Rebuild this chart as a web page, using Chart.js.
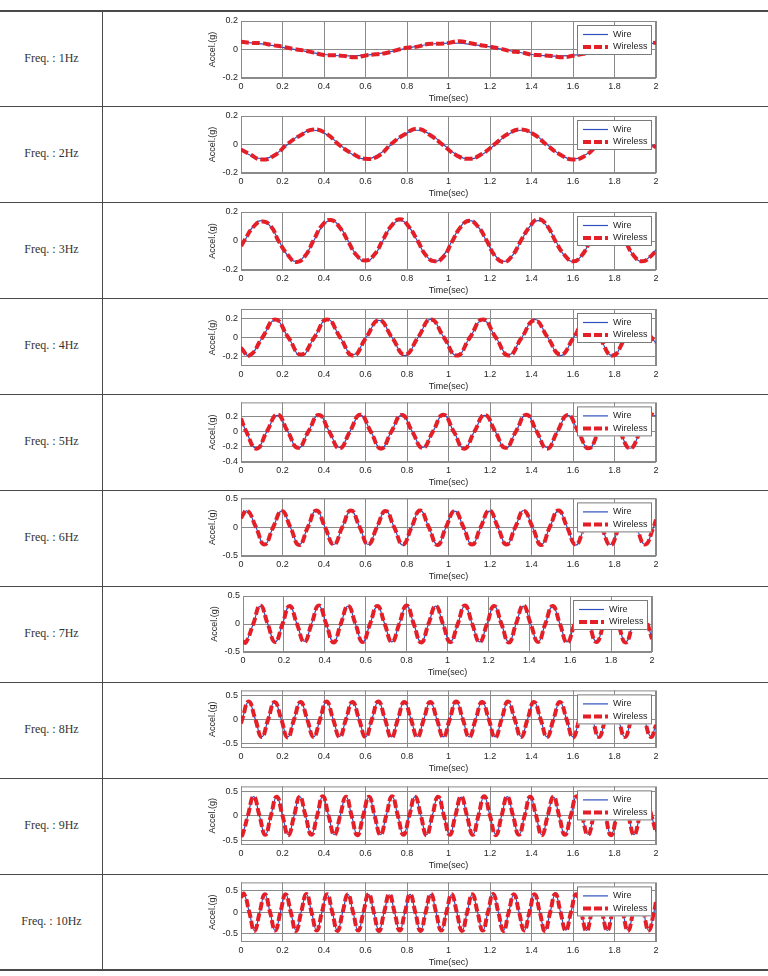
<!DOCTYPE html>
<html>
<head>
<meta charset="utf-8">
<script src="https://cdn.jsdelivr.net/npm/chart.js@4.4.0/dist/chart.umd.min.js"></script>
<style>
  html, body { margin: 0; padding: 0; background: #fff; }
  #page { position: relative; width: 768px; height: 976px; overflow: hidden; }
  .rule { position: absolute; background: #4a4a4a; }
  .freq { position: absolute; left: 0; width: 103px; text-align: center; font-family: "Liberation Serif", "DejaVu Serif", serif; font-size: 12px; color: #333; }
  canvas { position: absolute; }
</style>
</head>
<body>
<div id="page"></div>
<script>
// ---- data ----
const freqLabels = ['Freq. : 1Hz', 'Freq. : 2Hz', 'Freq. : 3Hz', 'Freq. : 4Hz', 'Freq. : 5Hz',
                    'Freq. : 6Hz', 'Freq. : 7Hz', 'Freq. : 8Hz', 'Freq. : 9Hz', 'Freq. : 10Hz'];
const seriesNames = ['Wire', 'Wireless'];
const xTicks = [0, 0.2, 0.4, 0.6, 0.8, 1, 1.2, 1.4, 1.6, 1.8, 2];
const yTicksSmall = [-0.2, 0, 0.2];
const yTicks5Hz = [-0.4, -0.2, 0, 0.2];
const yTicksLarge = [-0.5, 0, 0.5];

// 1 Hz
const t1 = [0,0.05,0.1,0.15,0.2,0.25,0.3,0.35,0.4,0.45,0.5,0.55,0.6,0.65,0.7,0.75,0.8,0.85,0.9,0.95,
  1,1.05,1.1,1.15,1.2,1.25,1.3,1.35,1.4,1.45,1.5,1.55,1.6,1.65,1.7,1.75,1.8,1.85,1.9,1.95,2];
const wire1 = [0.05,0.047,0.04,0.029,0.015,0.002,-0.01,-0.024,-0.035,-0.042,-0.045,-0.044,-0.04,-0.031,-0.02,
  -0.006,0.01,0.023,0.035,0.042,0.045,0.044,0.038,0.029,0.018,0.004,-0.01,-0.023,-0.035,-0.042,-0.046,
  -0.045,-0.04,-0.031,-0.02,-0.006,0.01,0.023,0.033,0.04,0.045];
const wireless1 = [0.055,0.046,0.044,0.031,0.02,0.004,-0.006,-0.022,-0.038,-0.04,-0.046,-0.055,-0.042,-0.034,-0.024,
  -0.004,0.012,0.02,0.038,0.04,0.046,0.058,0.046,0.032,0.02,0.006,-0.012,-0.02,-0.036,-0.04,-0.046,
  -0.055,-0.044,-0.03,-0.02,-0.004,0.012,0.026,0.03,0.042,0.048];

// 2 Hz
const t2 = [0,0.0375,0.1,0.1625,0.225,0.2875,0.35,0.4125,0.475,0.5375,0.6,0.6625,0.725,0.7875,0.85,0.9125,
  0.975,1.0375,1.1,1.1625,1.225,1.2875,1.35,1.4125,1.475,1.5375,1.6,1.6625,1.725,1.7875,1.85,1.9125,1.975,2];
const wire2 = [-0.03,-0.07,-0.1,-0.07,0,0.07,0.1,0.07,0,-0.07,-0.1,-0.07,0,0.07,0.1,0.07,
  0,-0.07,-0.1,-0.07,0,0.07,0.1,0.07,0,-0.07,-0.1,-0.07,0,0.07,0.1,0.07,0,-0.025];
const wireless2 = [-0.035,-0.065,-0.105,-0.075,0.005,0.065,0.105,0.075,-0.005,-0.065,-0.1,-0.08,0.005,0.07,0.11,0.065,
  -0.005,-0.075,-0.1,-0.065,0.005,0.075,0.105,0.07,-0.005,-0.07,-0.105,-0.075,0.005,0.065,0.1,0.07,0.005,-0.02];

// 3 Hz
const t3 = [0,0.017,0.058,0.1,0.142,0.183,0.225,0.267,0.308,0.35,0.392,0.433,0.475,0.517,0.558,0.6,0.642,
  0.683,0.725,0.767,0.808,0.85,0.892,0.933,0.975,1.017,1.058,1.1,1.142,1.183,1.225,1.267,1.308,1.35,1.392,
  1.433,1.475,1.517,1.558,1.6,1.642,1.683,1.725,1.767,1.808,1.85,1.892,1.933,1.975,2];
const wire3 = [-0.035,
  0,0.1,0.14,0.1,0,-0.1,-0.14,-0.1,  0,0.1,0.14,0.1,0,-0.1,-0.14,-0.1,
  0,0.1,0.14,0.1,0,-0.1,-0.14,-0.1,  0,0.1,0.14,0.1,0,-0.1,-0.14,-0.1,
  0,0.1,0.14,0.1,0,-0.1,-0.14,-0.1,  0,0.1,0.14,0.1,0,-0.1,-0.14,-0.1,
  -0.06];
const wireless3 = [-0.035,
  0.005,0.095,0.135,0.105,-0.005,-0.095,-0.145,-0.105,  0.005,0.11,0.145,0.095,-0.005,-0.1,-0.135,-0.095,
  0.005,0.105,0.15,0.1,0.005,-0.1,-0.14,-0.11,  -0.005,0.095,0.14,0.1,0.005,-0.105,-0.145,-0.1,
  0.005,0.1,0.15,0.105,-0.005,-0.095,-0.14,-0.1,  0,0.1,0.14,0.1,0.005,-0.1,-0.14,-0.105,
  -0.065];

// 4 Hz
const t4 = [0,0.04,0.103,0.165,0.228,0.29,0.353,0.415,0.478,0.54,0.603,0.665,0.728,0.79,0.853,0.915,0.978,
  1.04,1.103,1.165,1.228,1.29,1.353,1.415,1.478,1.54,1.603,1.665,1.728,1.79,1.853,1.915,1.978,2];
const wire4 = [-0.1,
  -0.19,0,0.18,0, -0.19,0,0.19,0, -0.18,0,0.18,0, -0.19,0,0.19,0,
  -0.19,0,0.18,0, -0.18,0,0.19,0, -0.19,0,0.19,0, -0.19,0,0.18,0,
  -0.06];
const wireless4 = [-0.11,
  -0.19,0,0.19,0, -0.18,0,0.19,0, -0.19,0,0.18,0, -0.18,0,0.19,0,
  -0.19,0,0.19,0, -0.19,0,0.18,0, -0.18,0,0.19,0, -0.19,0,0.19,0,
  -0.05];

// 5 Hz
const t5 = [0,0.025,0.075,0.125,0.175,0.225,0.275,0.325,0.375,0.425,0.475,0.525,0.575,0.625,0.675,0.725,0.775,
  0.825,0.875,0.925,0.975,1.025,1.075,1.125,1.175,1.225,1.275,1.325,1.375,1.425,1.475,1.525,1.575,1.625,
  1.675,1.725,1.775,1.825,1.875,1.925,1.975,2];
const wire5 = [0.16,
  0,-0.22,0,0.21, 0,-0.22,0,0.215, 0,-0.21,0,0.21, 0,-0.22,0,0.21, 0,-0.21,0,0.215,
  0,-0.22,0,0.21, 0,-0.22,0,0.215, 0,-0.21,0,0.21, 0,-0.22,0,0.21, 0,-0.22,0,0.21,
  0.2];
const wireless5 = [0.17,
  0,-0.225,0,0.22, 0,-0.215,0,0.215, 0,-0.22,0,0.22, 0,-0.225,0,0.215, 0,-0.215,0,0.22,
  0,-0.225,0,0.215, 0,-0.215,0,0.22, 0,-0.225,0,0.215, 0,-0.22,0,0.22, 0,-0.22,0,0.215,
  0.2];

// 6 Hz
const t6 = [0,0.03,0.072,0.113,0.155,0.197,0.238,0.28,0.322,0.363,0.405,0.447,0.488,0.53,0.572,0.613,0.655,
  0.697,0.738,0.78,0.822,0.863,0.905,0.947,0.988,1.03,1.072,1.113,1.155,1.197,1.238,1.28,1.322,1.363,1.405,
  1.447,1.488,1.53,1.572,1.613,1.655,1.697,1.738,1.78,1.822,1.863,1.905,1.947,1.988,2];
const wire6 = [0.15,
  0.28,0,-0.3,0, 0.28,0,-0.3,0, 0.29,0,-0.3,0, 0.28,0,-0.3,0,
  0.28,0,-0.31,0, 0.29,0,-0.3,0, 0.28,0,-0.3,0, 0.28,0,-0.3,0,
  0.29,0,-0.3,0, 0.28,0,-0.31,0, 0.28,0,-0.3,0, 0.28,0,-0.3,0,
  0.12];
const wireless6 = [0.16,
  0.29,0,-0.3,0, 0.28,0,-0.31,0, 0.29,0,-0.3,0, 0.29,0,-0.3,0,
  0.28,0,-0.3,0, 0.29,0,-0.31,0, 0.28,0,-0.3,0, 0.29,0,-0.3,0,
  0.28,0,-0.31,0, 0.29,0,-0.3,0, 0.28,0,-0.31,0, 0.29,0,-0.3,0,
  0.13];

// 7 Hz
const t7 = [0,0.014,0.05,0.085,0.121,0.157,0.193,0.228,0.264,0.3,0.335,0.371,0.407,0.443,0.478,0.514,0.55,
  0.585,0.621,0.657,0.693,0.728,0.764,0.8,0.835,0.871,0.907,0.943,0.978,1.014,1.05,1.085,1.121,1.157,1.193,
  1.228,1.264,1.3,1.335,1.371,1.407,1.443,1.478,1.514,1.55,1.585,1.621,1.657,1.693,1.728,1.764,1.8,1.835,
  1.871,1.907,1.943,1.978,2];
const wire7 = [-0.3,
  -0.32,0,0.32,0, -0.32,0,0.32,0, -0.31,0,0.32,0, -0.32,0,0.32,0, -0.32,0,0.31,0,
  -0.32,0,0.32,0, -0.32,0,0.32,0, -0.31,0,0.32,0, -0.32,0,0.32,0, -0.32,0,0.32,0,
  -0.32,0,0.31,0, -0.32,0,0.32,0, -0.31,0,0.32,0, -0.32,0,0.32,0,
  -0.26];
const wireless7 = [-0.31,
  -0.33,0,0.33,0, -0.32,0,0.32,0, -0.32,0,0.33,0, -0.33,0,0.32,0, -0.32,0,0.32,0,
  -0.32,0,0.33,0, -0.33,0,0.32,0, -0.32,0,0.33,0, -0.32,0,0.32,0, -0.33,0,0.33,0,
  -0.32,0,0.32,0, -0.33,0,0.32,0, -0.32,0,0.33,0, -0.33,0,0.32,0,
  -0.27];

// 8 Hz
const t8 = [0,0.006,0.037,0.069,0.1,0.131,0.162,0.194,0.225,0.256,0.287,0.319,0.35,0.381,0.412,0.444,0.475,
  0.506,0.537,0.569,0.6,0.631,0.662,0.694,0.725,0.756,0.787,0.819,0.85,0.881,0.912,0.944,0.975,
  1.006,1.037,1.069,1.1,1.131,1.162,1.194,1.225,1.256,1.287,1.319,1.35,1.381,1.412,1.444,1.475,
  1.506,1.537,1.569,1.6,1.631,1.662,1.694,1.725,1.756,1.787,1.819,1.85,1.881,1.912,1.944,1.975,2];
const wire8 = [-0.08,
  0,0.36,0,-0.37, 0,0.36,0,-0.37, 0,0.35,0,-0.37, 0,0.36,0,-0.36,
  0,0.36,0,-0.37, 0,0.36,0,-0.37, 0,0.36,0,-0.36, 0,0.35,0,-0.37,
  0,0.36,0,-0.37, 0,0.36,0,-0.37, 0,0.36,0,-0.36, 0,0.36,0,-0.37,
  0,0.35,0,-0.37, 0,0.36,0,-0.37, 0,0.36,0,-0.37, 0,0.36,0,-0.36,
  -0.11];
const wireless8 = [-0.09,
  0,0.37,0,-0.37, 0,0.36,0,-0.38, 0,0.36,0,-0.37, 0,0.37,0,-0.37,
  0,0.36,0,-0.37, 0,0.37,0,-0.38, 0,0.36,0,-0.37, 0,0.36,0,-0.37,
  0,0.37,0,-0.37, 0,0.36,0,-0.38, 0,0.37,0,-0.37, 0,0.36,0,-0.37,
  0,0.36,0,-0.38, 0,0.37,0,-0.37, 0,0.36,0,-0.37, 0,0.37,0,-0.37,
  -0.12];

// 9 Hz
const t9 = [0,0.006,0.033,0.061,0.089,0.117,0.144,0.172,0.2,0.228,0.256,0.283,0.311,0.339,0.367,0.394,0.422,
  0.45,0.478,0.506,0.533,0.561,0.589,0.617,0.644,0.672,0.7,0.728,0.756,0.783,0.811,0.839,0.867,0.894,0.922,
  0.95,0.978,1.006,1.033,1.061,1.089,1.117,1.144,1.172,1.2,1.228,1.256,1.283,1.311,1.339,1.367,1.394,1.422,
  1.45,1.478,1.506,1.533,1.561,1.589,1.617,1.644,1.672,1.7,1.728,1.756,1.783,1.811,1.839,1.867,1.894,1.922,
  1.95,1.978,2];
const wire9 = [-0.37,
  -0.39,0,0.39,0, -0.39,0,0.38,0, -0.39,0,0.39,0, -0.38,0,0.39,0, -0.39,0,0.39,0, -0.39,0,0.38,0,
  -0.39,0,0.39,0, -0.38,0,0.39,0, -0.39,0,0.39,0, -0.39,0,0.38,0, -0.39,0,0.39,0, -0.38,0,0.39,0,
  -0.39,0,0.39,0, -0.39,0,0.38,0, -0.39,0,0.39,0, -0.38,0,0.39,0, -0.39,0,0.39,0, -0.39,0,0.38,0,
  -0.33];
const wireless9 = [-0.38,
  -0.4,0,0.39,0, -0.39,0,0.39,0, -0.4,0,0.39,0, -0.39,0,0.4,0, -0.39,0,0.39,0, -0.4,0,0.39,0,
  -0.39,0,0.4,0, -0.39,0,0.39,0, -0.4,0,0.39,0, -0.39,0,0.39,0, -0.39,0,0.4,0, -0.4,0,0.39,0,
  -0.39,0,0.39,0, -0.4,0,0.39,0, -0.39,0,0.4,0, -0.39,0,0.39,0, -0.4,0,0.39,0, -0.39,0,0.39,0,
  -0.34];

// 10 Hz
const t10 = [0,0.015,0.04,0.065,0.09,0.115,0.14,0.165,0.19,0.215,0.24,0.265,0.29,0.315,0.34,0.365,0.39,0.415,
  0.44,0.465,0.49,0.515,0.54,0.565,0.59,0.615,0.64,0.665,0.69,0.715,0.74,0.765,0.79,0.815,0.84,0.865,0.89,
  0.915,0.94,0.965,0.99,1.015,1.04,1.065,1.09,1.115,1.14,1.165,1.19,1.215,1.24,1.265,1.29,1.315,1.34,1.365,
  1.39,1.415,1.44,1.465,1.49,1.515,1.54,1.565,1.59,1.615,1.64,1.665,1.69,1.715,1.74,1.765,1.79,1.815,1.84,
  1.865,1.89,1.915,1.94,1.965,1.99,2];
const wire10 = [0.34,
  0.42,0,-0.43,0, 0.41,0,-0.43,0, 0.42,0,-0.42,0, 0.42,0,-0.43,0, 0.41,0,-0.43,0,
  0.42,0,-0.43,0, 0.42,0,-0.42,0, 0.41,0,-0.43,0, 0.42,0,-0.43,0, 0.42,0,-0.42,0,
  0.41,0,-0.43,0, 0.42,0,-0.43,0, 0.42,0,-0.42,0, 0.41,0,-0.43,0, 0.42,0,-0.43,0,
  0.42,0,-0.42,0, 0.41,0,-0.43,0, 0.42,0,-0.43,0, 0.42,0,-0.42,0, 0.41,0,-0.43,0,
  0.25];
const wireless10 = [0.35,
  0.43,0,-0.44,0, 0.42,0,-0.43,0, 0.42,0,-0.44,0, 0.43,0,-0.43,0, 0.42,0,-0.44,0,
  0.42,0,-0.43,0, 0.43,0,-0.44,0, 0.42,0,-0.43,0, 0.42,0,-0.44,0, 0.43,0,-0.43,0,
  0.42,0,-0.44,0, 0.42,0,-0.43,0, 0.43,0,-0.44,0, 0.42,0,-0.43,0, 0.42,0,-0.44,0,
  0.43,0,-0.43,0, 0.42,0,-0.44,0, 0.42,0,-0.43,0, 0.43,0,-0.44,0, 0.42,0,-0.43,0,
  0.26];

// ---- panels: which arrays go where, plus axis limits ----
const panels = [
  { t: t1,  wire: wire1,  wireless: wireless1,  yMin: -0.2, yMax: 0.2,  yTicks: yTicksSmall, top: 21,  bottom: 78 },
  { t: t2,  wire: wire2,  wireless: wireless2,  yMin: -0.2, yMax: 0.2,  yTicks: yTicksSmall, top: 116, bottom: 173 },
  { t: t3,  wire: wire3,  wireless: wireless3,  yMin: -0.2, yMax: 0.2,  yTicks: yTicksSmall, top: 212, bottom: 270 },
  { t: t4,  wire: wire4,  wireless: wireless4,  yMin: -0.3, yMax: 0.3,  yTicks: yTicksSmall, top: 309, bottom: 366 },
  { t: t5,  wire: wire5,  wireless: wireless5,  yMin: -0.4, yMax: 0.38, yTicks: yTicks5Hz,   top: 402, bottom: 462 },
  { t: t6,  wire: wire6,  wireless: wireless6,  yMin: -0.5, yMax: 0.5,  yTicks: yTicksLarge, top: 498, bottom: 556 },
  { t: t7,  wire: wire7,  wireless: wireless7,  yMin: -0.5, yMax: 0.5,  yTicks: yTicksLarge, top: 596, bottom: 652, left: 243, right: 652 },
  { t: t8,  wire: wire8,  wireless: wireless8,  yMin: -0.6, yMax: 0.6,  yTicks: yTicksLarge, top: 690, bottom: 748 },
  { t: t9,  wire: wire9,  wireless: wireless9,  yMin: -0.6, yMax: 0.6,  yTicks: yTicksLarge, top: 786, bottom: 845 },
  { t: t10, wire: wire10, wireless: wireless10, yMin: -0.7, yMax: 0.7,  yTicks: yTicksLarge, top: 882, bottom: 942 },
];

// ---- page layout ----
const rowTops = [11, 106, 202, 298, 394, 490, 586, 682, 778, 874];
const tableBottom = 970;
const WIRE_BLUE = '#2f4fbf';
const WIRELESS_RED = '#e41f28';
const GRID = '#8a8a8a';
const TEXT = '#262626';
const FONT = '"Liberation Sans", Arial, sans-serif';

const page = document.getElementById('page');

function rule(x, y, w, h) {
  const d = document.createElement('div');
  d.className = 'rule';
  Object.assign(d.style, { left: x + 'px', top: y + 'px', width: w + 'px', height: h + 'px' });
  page.appendChild(d);
}
rule(0, 10, 768, 2);
rowTops.slice(1).forEach(y => rule(0, y, 768, 1));
rule(0, tableBottom - 1, 768, 2);
rule(102, 11, 1, tableBottom - 11);

// frame round the plot area
const plotFrame = {
  id: 'plotFrame',
  beforeDatasetsDraw(chart) {
    const { ctx, chartArea: a } = chart;
    ctx.save();
    ctx.strokeStyle = GRID;
    ctx.lineWidth = 1;
    ctx.strokeRect(a.left + 0.5, a.top + 0.5, a.right - a.left - 1, a.bottom - a.top - 1);
    ctx.restore();
  }
};

// MATLAB style boxed legend in the top right corner
const boxLegend = {
  id: 'boxLegend',
  afterDatasetsDraw(chart) {
    const { ctx, chartArea: a } = chart;
    const w = 75, h = 30;
    const x = a.right - 4 - w, y = a.top + 4;
    ctx.save();
    ctx.fillStyle = '#fff';
    ctx.fillRect(x, y, w, h);
    ctx.strokeStyle = '#7a7a7a';
    ctx.lineWidth = 1;
    ctx.strokeRect(x + 0.5, y + 0.5, w - 1, h - 1);
    const sets = chart.data.datasets;
    [[sets[1], y + 9.5], [sets[0], y + 22]].forEach(([ds, ly]) => {
      ctx.beginPath();
      ctx.strokeStyle = ds.borderColor;
      ctx.lineWidth = ds.borderWidth;
      ctx.setLineDash(ds.borderDash || []);
      ctx.moveTo(x + 6, ly);
      ctx.lineTo(x + 31, ly);
      ctx.stroke();
      ctx.setLineDash([]);
      ctx.fillStyle = TEXT;
      ctx.font = '9px ' + FONT;
      ctx.textBaseline = 'middle';
      ctx.fillText(ds.label, x + 36, ly);
    });
    ctx.restore();
  }
};

const CANVAS_X = 190, CANVAS_W = 480, Y_AXIS_W = 34, X_AXIS_H = 26;

panels.forEach((p, i) => {
  const rowTop = rowTops[i];
  const rowH = (rowTops[i + 1] || tableBottom) - rowTop;
  const left = p.left || 241, right = p.right || 656;

  const label = document.createElement('div');
  label.className = 'freq';
  label.textContent = freqLabels[i];
  label.style.top = (rowTop + rowH / 2 - 8) + 'px';
  page.appendChild(label);

  const cv = document.createElement('canvas');
  cv.width = CANVAS_W;
  cv.height = rowH;
  Object.assign(cv.style, { left: CANVAS_X + 'px', top: rowTop + 'px', width: CANVAS_W + 'px', height: rowH + 'px' });
  page.appendChild(cv);

  const padTop = p.top - rowTop;
  const plotH = p.bottom - p.top;

  new Chart(cv, {
    type: 'line',
    data: {
      datasets: [
        {
          label: seriesNames[1],
          data: p.t.map((x, k) => ({ x, y: p.wireless[k] })),
          borderColor: WIRELESS_RED,
          borderWidth: 4,
          borderDash: [8, 3],
          pointRadius: 0,
          tension: 0.5,
          order: 1
        },
        {
          label: seriesNames[0],
          data: p.t.map((x, k) => ({ x, y: p.wire[k] })),
          borderColor: WIRE_BLUE,
          borderWidth: 1.2,
          pointRadius: 0,
          tension: 0.5,
          order: 2
        }
      ]
    },
    options: {
      responsive: false,
      animation: false,
      devicePixelRatio: 1,
      events: [],
      layout: {
        padding: {
          left: left - CANVAS_X - Y_AXIS_W,
          right: CANVAS_X + CANVAS_W - right,
          top: padTop,
          bottom: rowH - padTop - plotH - X_AXIS_H
        }
      },
      plugins: { legend: { display: false }, tooltip: { enabled: false } },
      scales: {
        x: {
          type: 'linear',
          min: 0,
          max: 2,
          afterBuildTicks: ax => { ax.ticks = xTicks.map(v => ({ value: v })); },
          afterFit: ax => { ax.height = X_AXIS_H; },
          ticks: { autoSkip: false, maxRotation: 0, padding: 3, color: TEXT, font: { family: FONT, size: 9 }, callback: v => String(v) },
          grid: { color: GRID, drawTicks: false },
          border: { display: false },
          title: { display: true, text: 'Time(sec)', color: TEXT, font: { family: FONT, size: 9 }, padding: 0 }
        },
        y: {
          min: p.yMin,
          max: p.yMax,
          afterBuildTicks: ax => { ax.ticks = p.yTicks.map(v => ({ value: v })); },
          afterFit: ax => { ax.width = Y_AXIS_W; },
          ticks: { autoSkip: false, padding: 3, color: TEXT, font: { family: FONT, size: 9 }, callback: v => String(v) },
          grid: { color: GRID, drawTicks: false },
          border: { display: false },
          title: { display: true, text: 'Accel.(g)', color: TEXT, font: { family: FONT, size: 9 }, padding: 0 }
        }
      }
    },
    plugins: [plotFrame, boxLegend]
  });
});
</script>
</body>
</html>
